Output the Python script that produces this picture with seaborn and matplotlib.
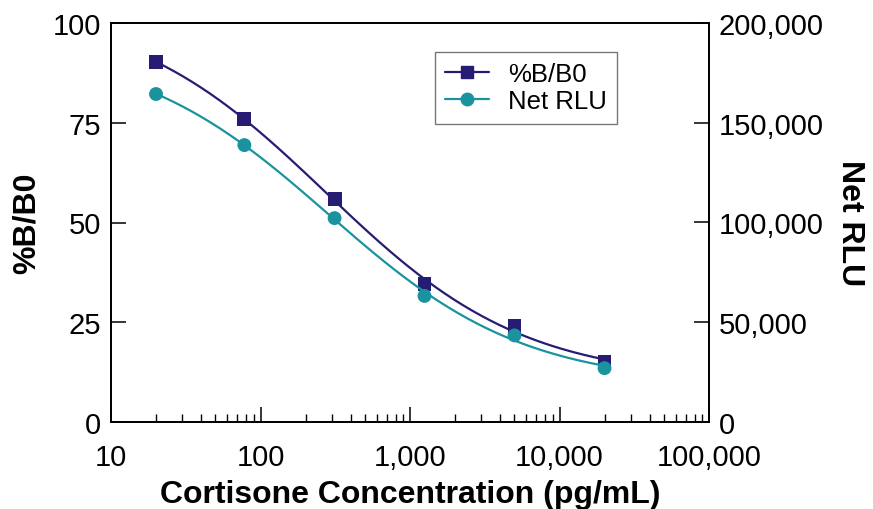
import numpy as np
import pandas as pd
import matplotlib
matplotlib.use("Agg")
import matplotlib.pyplot as plt
from matplotlib.lines import Line2D
from matplotlib.ticker import FuncFormatter, LogLocator, NullFormatter
import seaborn as sns

# ---- data ----
concentration = [20, 78, 313, 1250, 5000, 20000]            # pg/mL
pct_b_b0 = [90.2, 75.9, 55.9, 34.6, 24.1, 15.0]             # %B/B0
net_rlu = [164400, 138800, 102200, 63200, 43400, 27000]     # Net RLU

x_ticks = [10, 100, 1000, 10000, 100000]
left_ticks = [0, 25, 50, 75, 100]
right_ticks = [0, 50000, 100000, 150000, 200000]

NAVY = "#261c73"
TEAL = "#1a939f"

sns.set_style("ticks")
plt.rcParams["font.family"] = ["Liberation Sans", "DejaVu Sans"]
plt.rcParams["text.color"] = "black"
plt.rcParams["axes.labelcolor"] = "black"
plt.rcParams["xtick.color"] = "black"
plt.rcParams["ytick.color"] = "black"


def four_pl(x, p):
    a, b, logc, d = p
    return d + (a - d) / (1.0 + (x / 10.0 ** logc) ** b)


def fit_4pl(x, y):
    x = np.asarray(x, float)
    y = np.asarray(y, float)
    p = np.array([y.max() * 1.1, 1.0, np.log10(np.median(x)), y.min() * 0.7])
    lam = 1e-3
    def resid(pp):
        return y - four_pl(x, pp)
    r = resid(p)
    for _ in range(500):
        J = np.zeros((len(x), 4))
        for k in range(4):
            dp = np.zeros(4)
            h = 1e-6 * max(1.0, abs(p[k]))
            dp[k] = h
            J[:, k] = (four_pl(x, p + dp) - four_pl(x, p - dp)) / (2 * h)
        A = J.T @ J
        g = J.T @ r
        step = np.linalg.solve(A + lam * np.diag(np.diag(A) + 1e-12), g)
        pn = p + step
        rn = resid(pn)
        if np.sum(rn ** 2) < np.sum(r ** 2):
            p, r = pn, rn
            lam *= 0.3
        else:
            lam *= 10
        if lam > 1e12:
            break
    return p


xs = np.logspace(np.log10(min(concentration)), np.log10(max(concentration)), 300)
p1 = fit_4pl(concentration, pct_b_b0)
p2 = fit_4pl(concentration, net_rlu)
curve1 = pd.DataFrame({"x": xs, "y": four_pl(xs, p1)})
curve2 = pd.DataFrame({"x": xs, "y": four_pl(xs, p2)})
pts = pd.DataFrame({"x": concentration, "b": pct_b_b0, "rlu": net_rlu})

fig = plt.figure(figsize=(8.73, 5.10), dpi=100)
ax = fig.add_axes([111 / 873, 1 - 423 / 510, 598 / 873, 399 / 510])
ax2 = ax.twinx()

sns.lineplot(data=curve1, x="x", y="y", ax=ax, color=NAVY, lw=1.6, zorder=3)
sns.scatterplot(data=pts, x="x", y="b", ax=ax, color=NAVY, marker="s", s=100,
                edgecolor="none", zorder=4)
sns.lineplot(data=curve2, x="x", y="y", ax=ax2, color=TEAL, lw=1.6, zorder=3)
sns.scatterplot(data=pts, x="x", y="rlu", ax=ax2, color=TEAL, marker="o", s=100,
                edgecolor="none", zorder=4)

ax.set_xscale("log")
ax.set_xlim(10, 100000)
ax.set_ylim(0, 100)
ax2.set_ylim(0, 200000)
ax.set_xticks(x_ticks)
ax.xaxis.set_major_formatter(FuncFormatter(lambda v, _: f"{int(round(v)):,}"))
ax.xaxis.set_minor_locator(LogLocator(base=10, subs=np.arange(2, 10)))
ax.xaxis.set_minor_formatter(NullFormatter())
ax.set_yticks(left_ticks)
ax2.set_yticks(right_ticks)
ax2.yaxis.set_major_formatter(FuncFormatter(lambda v, _: f"{int(round(v)):,}"))

for a in (ax, ax2):
    for s in a.spines.values():
        s.set_linewidth(1.3)
        s.set_color("black")
    a.tick_params(which="major", direction="in", length=11, width=1.1,
                  labelsize=21, pad=7, colors="black")
    a.tick_params(which="minor", direction="in", length=6, width=1.0)
ax.tick_params(axis="x", pad=15)

ax.set_xlabel("Cortisone Concentration (pg/mL)", fontsize=23, fontweight="bold", labelpad=6)
ax.set_ylabel("%B/B0", fontsize=23, fontweight="bold", labelpad=8)
ax2.set_ylabel("Net RLU", fontsize=23, fontweight="bold", rotation=270, labelpad=30)

handles = [
    Line2D([], [], color=NAVY, lw=1.6, marker="s", markersize=9),
    Line2D([], [], color=TEAL, lw=1.6, marker="o", markersize=9),
]
leg = ax2.legend(handles, ["%B/B0", "Net RLU"], loc="upper left",
                 bbox_to_anchor=(0.5418, 0.9273), fontsize=18.5, frameon=True,
                 fancybox=False, handlelength=1.7, handletextpad=0.75,
                 labelspacing=0.12, borderpad=0.4, borderaxespad=0)
leg.get_frame().set_edgecolor("#555555")
leg.get_frame().set_linewidth(1.0)

fig.savefig("out.png", dpi=100)
